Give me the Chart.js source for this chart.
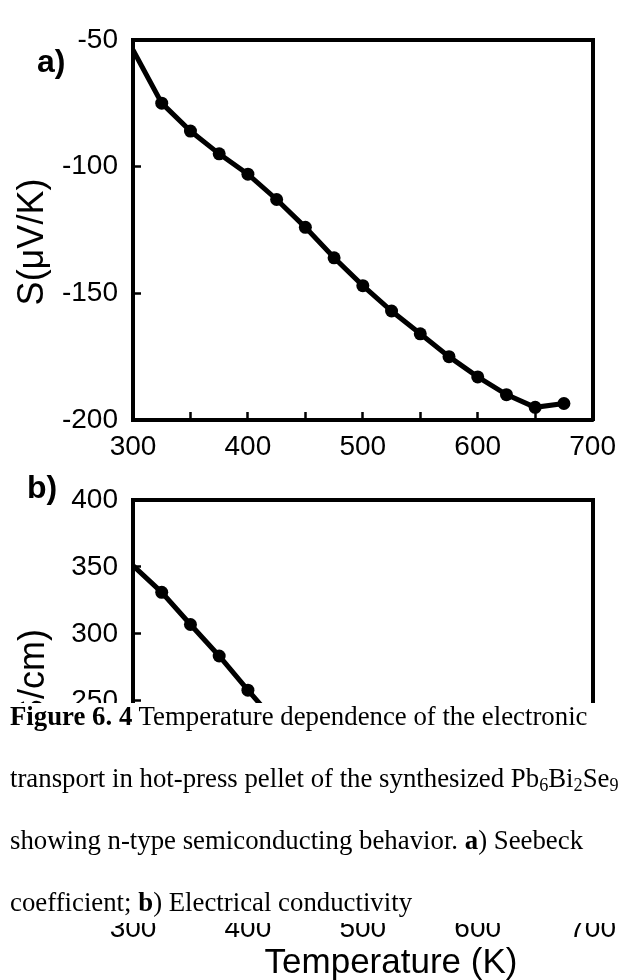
<!DOCTYPE html>
<html><head><meta charset="utf-8">
<script src="https://cdn.jsdelivr.net/npm/chart.js@4.4.1/dist/chart.umd.min.js"></script>
<style>
html,body{margin:0;padding:0;background:#fff;width:634px;height:980px;overflow:hidden;}
#wrapA{position:absolute;left:0;top:0;width:634px;height:460px;}
#wrapB{position:absolute;left:0;top:460px;width:634px;height:520px;}
#capBox{position:absolute;left:0;top:703px;width:634px;height:220px;background:#fff;z-index:5;}
#cap{position:absolute;left:10px;top:685px;margin:0;font-family:'Liberation Serif','Times New Roman',serif;font-size:26.8px;line-height:62px;color:#000;z-index:6;white-space:nowrap;}
#cap sub{font-size:0.68em;line-height:0;position:relative;top:0.22em;vertical-align:baseline;}
</style></head>
<body>
<div id="wrapA"><canvas id="cA" width="634" height="460" style="width:634px;height:460px"></canvas></div>
<div id="wrapB"><canvas id="cB" width="634" height="520" style="width:634px;height:520px"></canvas></div>
<div id="capBox"></div>
<div id="cap"><b>Figure 6. 4</b> Temperature dependence of the electronic<br>transport in hot-press pellet of the synthesized Pb<sub>6</sub>Bi<sub>2</sub>Se<sub>9</sub><br>showing n-type semiconducting behavior. <b>a</b>) Seebeck<br>coefficient; <b>b</b>) Electrical conductivity</div>
<script>
// ---- data ----
const temperaturesA = [300,325,350,375,400,425,450,475,500,525,550,575,600,625,650,675];
const seebeck = [-54,-75,-86,-95,-103,-113,-124,-136,-147,-157,-166,-175,-183,-190,-195,-193.5];
const temperaturesB = [300,325,350,375,400,425];
const conductivity = [351,331,307,283.5,258,233.5];
const xTicksLabels = [300,400,500,600,700];
const seebeckTicks = [-200,-150,-100,-50];
const condTicks = [100,150,200,250,300,350,400];

Chart.defaults.font.family = "'Liberation Sans', Arial, Helvetica, sans-serif";
Chart.defaults.color = '#000';

function textPlugin(items){
  return {id:'txt', afterDraw(chart){
    const ctx = chart.ctx;
    items.forEach(t=>{
      ctx.save();
      ctx.font = t.font; ctx.fillStyle = '#000';
      ctx.textAlign = t.align || 'left';
      ctx.textBaseline = t.base || 'alphabetic';
      ctx.translate(t.x, t.y);
      if (t.rot) ctx.rotate(t.rot);
      ctx.fillText(t.text, 0, 0);
      ctx.restore();
    });
  }};
}

function mkScales(xMin,xMax,yMin,yMax,xH,yW){
  const tickFont = {size:28};
  const grid = {drawOnChartArea:false, drawTicks:true, tickLength:-8, tickWidth:2.5, tickColor:'#000'};
  const border = {display:true, color:'#000', width:4};
  return {
    x:{type:'linear', position:'bottom', min:xMin, max:xMax,
       ticks:{stepSize:50, autoSkip:false, maxRotation:0, padding:18, color:'#000', font:tickFont,
              callback:v=> xTicksLabels.includes(v) ? String(v) : ''},
       grid:grid, border:border, afterFit(s){s.height=xH;}},
    y:{type:'linear', position:'left', min:yMin, max:yMax,
       ticks:{stepSize:50, autoSkip:false, padding:23, color:'#000', font:tickFont,
              callback:v=> String(v)},
       grid:grid, border:border, afterFit(s){s.width=yW;}},
    x2:{type:'linear', position:'top', display:true, ticks:{display:false}, grid:{display:false},
        border:border, afterFit(s){s.height=0;}},
    y2:{type:'linear', position:'right', display:true, ticks:{display:false}, grid:{display:false},
        border:border, afterFit(s){s.width=0;}}
  };
}

function dataset(xs, ys){
  return {
    data: xs.map((x,i)=>({x:x, y:ys[i]})),
    borderColor:'#000', backgroundColor:'#000', borderWidth:5,
    pointRadius: xs.map((x,i)=> i===0 ? 0 : 6.5),
    pointBackgroundColor:'#000', pointBorderWidth:0,
    tension:0, fill:false
  };
}

const commonOpts = {responsive:false, animation:false, events:[],
  plugins:{legend:{display:false}, tooltip:{enabled:false}}};

new Chart(document.getElementById('cA'), {
  type:'line',
  data:{datasets:[dataset(temperaturesA, seebeck)]},
  options:Object.assign({}, commonOpts, {
    layout:{padding:{left:0, top:24, right:39, bottom:0}},
    scales: mkScales(300,700,-200,-50,40,133)
  }),
  plugins:[textPlugin([
    {text:'a)', font:'bold 32px "Liberation Sans", Arial, sans-serif', x:37, y:72},
    {text:'S(\u03BCV/K)', font:'36px "Liberation Sans", Arial, sans-serif', x:33, y:242, align:'center', base:'middle', rot:-Math.PI/2}
  ])]
});

new Chart(document.getElementById('cB'), {
  type:'line',
  data:{datasets:[dataset(temperaturesB, conductivity)]},
  options:Object.assign({}, commonOpts, {
    layout:{padding:{left:0, top:26, right:32, bottom:0}},
    scales: mkScales(300,700,100,400,78,133)
  }),
  plugins:[textPlugin([
    {text:'b)', font:'bold 32px "Liberation Sans", Arial, sans-serif', x:27, y:38},
    {text:'\u03C3(S/cm)', font:'36px "Liberation Sans", Arial, sans-serif', x:34, y:233, align:'center', base:'middle', rot:-Math.PI/2},
    {text:'Temperature (K)', font:'35px "Liberation Sans", Arial, sans-serif', x:391, y:513, align:'center'}
  ])]
});
</script>
</body></html>
